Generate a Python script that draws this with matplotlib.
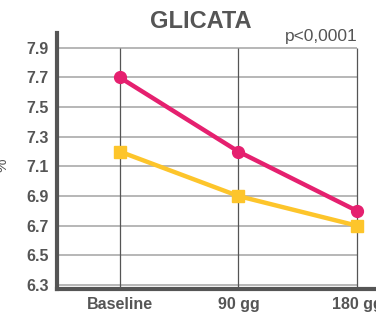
import matplotlib.pyplot as plt

# dati
categorie = ['Baseline', '90 gg', '180 gg']
serie_rosa = [7.7, 7.2, 6.8]
serie_gialla = [7.2, 6.9, 6.7]
yticks = [6.3, 6.5, 6.7, 6.9, 7.1, 7.3, 7.5, 7.7, 7.9]

grigio = '#555555'
plt.rcParams['font.family'] = ['Liberation Sans', 'DejaVu Sans']

fig = plt.figure(figsize=(3.76, 3.13), dpi=100)
ax = fig.add_axes([57 / 376, 1 - 289 / 313, 319 / 376, 256 / 313])

x = list(range(len(categorie)))
ax.set_xlim(-0.53, 2.16)
ax.set_ylim(6.273, 8.0)

# griglia
ax.hlines(yticks, -0.53, 2, color='#aaaaaa', lw=1.2, zorder=1)
ax.vlines(x, 6.273, 7.9, color=grigio, lw=0.9, zorder=1)

ax.plot(x, serie_gialla, color='#fdc52b', lw=3.2, marker='s', ms=8.5, zorder=3)
ax.plot(x, serie_rosa, color='#e5206f', lw=3.2, marker='o', ms=8.5, zorder=4)

for s in ['top', 'right']:
    ax.spines[s].set_visible(False)
for s in ['left', 'bottom']:
    ax.spines[s].set_color(grigio)
    ax.spines[s].set_linewidth(3)

ax.set_yticks(yticks)
ax.set_yticklabels([f'{v:.1f}' for v in yticks])
ax.set_xticks(x)
ax.set_xticklabels(categorie)
ax.tick_params(length=0, labelcolor=grigio, labelsize=11.5, pad=6)
for lab in ax.get_xticklabels() + ax.get_yticklabels():
    lab.set_fontweight('bold')

fig.text(201 / 376, 1 - 22 / 313, 'GLICATA', ha='center', va='center',
         fontsize=17, fontweight='bold', color=grigio)
fig.text(358 / 376, 1 - 37 / 313, 'p<0,0001', ha='right', va='center',
         fontsize=12.5, color=grigio)
fig.text(-0.012, 1 - 165 / 313, '%', rotation=90, ha='left', va='center',
         fontsize=11, color=grigio)

fig.savefig('out.png', dpi=100)
